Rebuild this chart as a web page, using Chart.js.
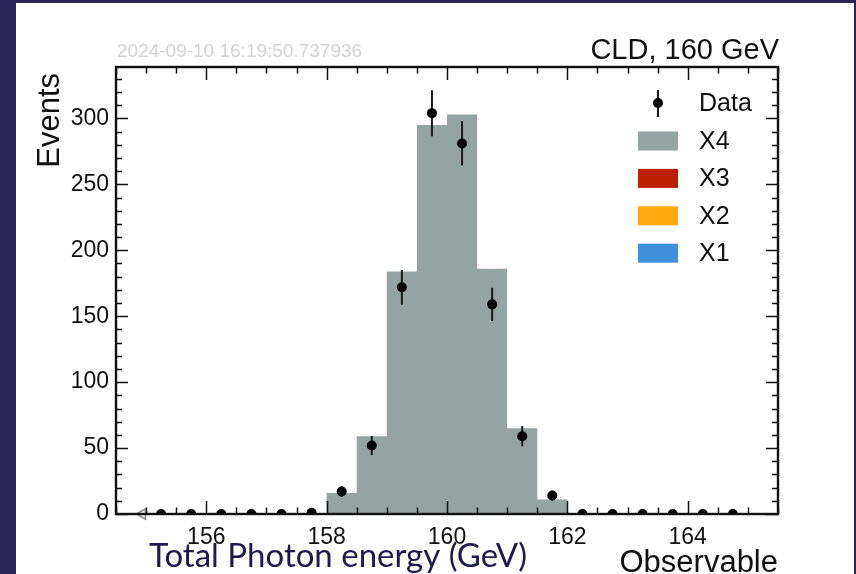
<!DOCTYPE html>
<html>
<head>
<meta charset="utf-8">
<script src="https://cdn.jsdelivr.net/npm/chart.js@4"></script>
<style>
  html, body { margin: 0; padding: 0; background: #2a2559; }
  canvas { display: block; }
</style>
</head>
<body>
<canvas id="myChart" width="856" height="574"></canvas>
<script>
// histogram binning: 0.5 GeV bins from 154.5 to 165.5
const binEdges = [154.5, 155, 155.5, 156, 156.5, 157, 157.5, 158, 158.5, 159, 159.5,
  160, 160.5, 161, 161.5, 162, 162.5, 163, 163.5, 164, 164.5, 165, 165.5];

// stacked MC contributions, one value per bin
const x4Counts = [0, 0, 0, 0, 0, 0, 0, 16, 59, 184, 295, 303, 186, 65, 11, 0, 0, 0, 0, 0, 0, 0];
const x3Counts = [0, 0, 0, 0, 0, 0, 0, 0, 0, 0, 0, 0, 0, 0, 0, 0, 0, 0, 0, 0, 0, 0];
const x2Counts = [0, 0, 0, 0, 0, 0, 0, 0, 0, 0, 0, 0, 0, 0, 0, 0, 0, 0, 0, 0, 0, 0];
const x1Counts = [0, 0, 0, 0, 0, 0, 0, 0, 0, 0, 0, 0, 0, 0, 0, 0, 0, 0, 0, 0, 0, 0];

// data points at bin centres
const dataCenters = [155.25, 155.75, 156.25, 156.75, 157.25, 157.75, 158.25, 158.75, 159.25, 159.75,
  160.25, 160.75, 161.25, 161.75, 162.25, 162.75, 163.25, 163.75, 164.25, 164.75];
const dataCounts = [0, 0, 0, 0, 0, 1, 17, 52, 172, 304, 281, 159, 59, 14, 0, 0, 0, 0, 0, 0];

// open marker sitting on the lower edge
const edgeMark = [{ x: 154.94, y: 0 }];

const xTicks = [156, 158, 160, 162, 164];
const yTicks = [0, 50, 100, 150, 200, 250, 300];

const stampText = "2024-09-10 16:19:50.737936";
const labelText = "CLD, 160 GeV";

const font = "'Liberation Sans', Arial, sans-serif";

function stepData(counts) {
  const pts = counts.map((c, i) => ({ x: binEdges[i], y: c }));
  pts.push({ x: binEdges[binEdges.length - 1], y: counts[counts.length - 1] });
  return pts;
}

function histSet(label, counts, color) {
  return {
    type: "line",
    label,
    data: stepData(counts),
    stepped: "before",
    fill: "origin",
    backgroundColor: color,
    borderColor: color,
    borderWidth: 0,
    pointRadius: 0,
    order: 5,
  };
}

const panel = {
  id: "panel",
  beforeDraw(chart) {
    const ctx = chart.ctx;
    ctx.save();
    ctx.fillStyle = "#2a2559";
    ctx.fillRect(0, 0, chart.width, chart.height);
    ctx.fillStyle = "#ffffff";
    ctx.fillRect(16, 3, 838, 571);
    ctx.restore();
  },
};

const errorBars = {
  id: "errorBars",
  beforeDatasetDraw(chart, args) {
    if (args.index !== 0) return;
    const { ctx, chartArea: a, scales: { x, y } } = chart;
    ctx.save();
    ctx.beginPath();
    ctx.rect(a.left, a.top, a.width, a.height);
    ctx.clip();
    ctx.strokeStyle = "#1a1a1a";
    ctx.lineWidth = 2;
    ctx.beginPath();
    dataCenters.forEach((cx, i) => {
      const n = dataCounts[i];
      if (n <= 0) return;
      const e = Math.sqrt(n);
      const px = x.getPixelForValue(cx);
      ctx.moveTo(px, y.getPixelForValue(n - e));
      ctx.lineTo(px, y.getPixelForValue(n + e));
    });
    ctx.stroke();
    ctx.restore();
  },
};

const frameTicks = {
  id: "frameTicks",
  afterDatasetsDraw(chart) {
    const { ctx, chartArea: a, scales: { x, y } } = chart;
    ctx.save();
    ctx.strokeStyle = "#111";
    ctx.lineWidth = 1.5;
    ctx.beginPath();
    for (let v = x.min; v <= x.max + 1e-6; v += 0.5) {
      const px = Math.round(x.getPixelForValue(v)) + 0.5;
      const len = xTicks.includes(v) ? 13 : 6.5;
      ctx.moveTo(px, a.bottom); ctx.lineTo(px, a.bottom - len);
      ctx.moveTo(px, a.top); ctx.lineTo(px, a.top + len);
    }
    for (let v = 0; v <= y.max; v += 10) {
      const py = Math.round(y.getPixelForValue(v)) + 0.5;
      const len = yTicks.includes(v) ? 12 : 6;
      ctx.moveTo(a.left, py); ctx.lineTo(a.left + len, py);
      ctx.moveTo(a.right, py); ctx.lineTo(a.right - len, py);
    }
    ctx.stroke();
    ctx.lineWidth = 2.4;
    ctx.strokeRect(a.left, a.top, a.width, a.height);
    ctx.restore();
  },
};

const texts = {
  id: "texts",
  afterDraw(chart) {
    const { ctx, chartArea: a } = chart;
    ctx.save();
    ctx.textBaseline = "alphabetic";

    ctx.fillStyle = "#d2d2d2";
    ctx.font = "19px " + font;
    ctx.textAlign = "left";
    ctx.fillText(stampText, a.left + 1, 57);

    ctx.fillStyle = "#111";
    ctx.font = "29px " + font;
    ctx.textAlign = "right";
    ctx.fillText(labelText, a.right + 1, 59);

    ctx.font = "31px " + font;
    ctx.fillText("Observable", a.right, 572);

    ctx.save();
    ctx.translate(59, 73);
    ctx.rotate(-Math.PI / 2);
    ctx.fillText("Events", 0, 0);
    ctx.restore();

    ctx.fillStyle = "#1d1a4c";
    ctx.font = "33px Lato, sans-serif";
    ctx.textAlign = "left";
    ctx.fillText("Total Photon energy (GeV)", 149, 567);

    // legend
    ctx.font = "25px " + font;
    ctx.textAlign = "left";
    ctx.textBaseline = "middle";
    const mx = 658, tx = 699;
    ctx.strokeStyle = "#1a1a1a";
    ctx.lineWidth = 2;
    ctx.beginPath();
    ctx.moveTo(mx, 90); ctx.lineTo(mx, 117);
    ctx.stroke();
    ctx.fillStyle = "#000";
    ctx.beginPath();
    ctx.arc(mx, 103, 5, 0, Math.PI * 2);
    ctx.fill();
    ctx.fillStyle = "#111";
    ctx.fillText("Data", tx, 104);

    const rows = chart.data.datasets.filter(d => d.order === 5);
    rows.forEach((d, i) => {
      const cy = 141 + i * 37.4;
      ctx.fillStyle = d.backgroundColor;
      ctx.fillRect(638, cy - 9.5, 40, 19);
      ctx.fillStyle = "#111";
      ctx.fillText(d.label, tx, cy + 1);
    });
    ctx.restore();
  },
};

const ctx = document.getElementById("myChart").getContext("2d");

const config = {
  type: "line",
  data: {
    datasets: [
      {
        type: "scatter",
        label: "Data",
        data: dataCenters.map((c, i) => ({ x: c, y: dataCounts[i] })),
        pointRadius: 5,
        pointHoverRadius: 5,
        pointBackgroundColor: "#000",
        pointBorderWidth: 0,
        showLine: false,
        clip: 0,
        order: 0,
      },
      {
        type: "scatter",
        label: "edge",
        data: edgeMark,
        pointStyle: "triangle",
        rotation: -90,
        pointRadius: 6,
        pointBackgroundColor: "#fff",
        pointBorderColor: "#888",
        pointBorderWidth: 1.5,
        showLine: false,
        clip: false,
        order: 1,
      },
      histSet("X4", x4Counts, "#94a4a2"),
      histSet("X3", x3Counts, "#bd1f01"),
      histSet("X2", x2Counts, "#ffa90e"),
      histSet("X1", x1Counts, "#3f90da"),
    ],
  },
  options: {
    responsive: false,
    animation: false,
    devicePixelRatio: 1,
    layout: { padding: { left: 0, top: 67, right: 78, bottom: 0 } },
    plugins: { legend: { display: false }, tooltip: { enabled: false } },
    scales: {
      x: {
        type: "linear",
        min: 154.5,
        max: 165.5,
        grid: { display: false, drawTicks: false },
        border: { display: false },
        ticks: {
          stepSize: 2,
          includeBounds: false,
          autoSkip: false,
          maxRotation: 0,
          padding: 10,
          color: "#111",
          font: { family: font, size: 23 },
          callback: v => (xTicks.includes(v) ? String(v) : ""),
        },
        afterFit: s => { s.height = 60; },
      },
      y: {
        type: "linear",
        min: 0,
        max: 339,
        grid: { display: false, drawTicks: false },
        border: { display: false },
        ticks: {
          stepSize: 50,
          includeBounds: false,
          padding: 7,
          color: "#111",
          font: { family: font, size: 23 },
          callback: v => (yTicks.includes(v) ? String(v) : ""),
        },
        afterFit: s => { s.width = 116; },
      },
    },
  },
  plugins: [panel, errorBars, frameTicks, texts],
};

const myChart = new Chart(ctx, config);
</script>
</body>
</html>
